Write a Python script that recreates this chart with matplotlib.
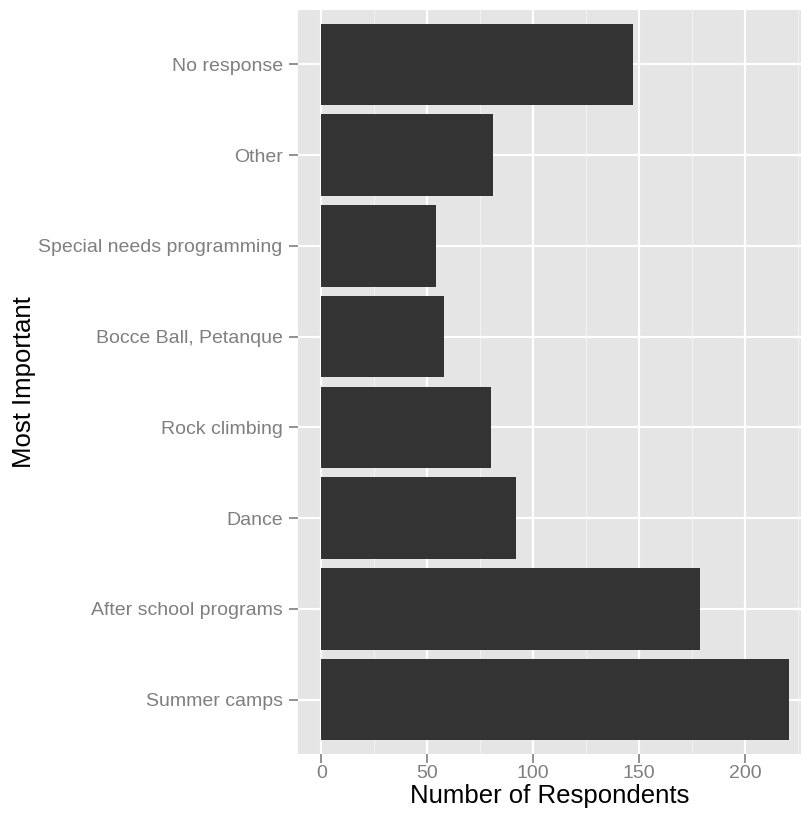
import matplotlib
matplotlib.use("Agg")
from matplotlib import pyplot as plt
from matplotlib.ticker import MultipleLocator

# categories, bottom to top
categories = [
	"Summer camps",
	"After school programs",
	"Dance",
	"Rock climbing",
	"Bocce Ball, Petanque",
	"Special needs programming",
	"Other",
	"No response",
]
respondents = [221, 179, 92, 80, 58, 54, 81, 147]
x_ticks = [0, 50, 100, 150, 200]

plt.rcParams['font.family'] = ['Liberation Sans', 'DejaVu Sans']

fig = plt.figure(figsize=(8.01, 8.16), dpi=100)
ax = fig.add_axes([298 / 801, 1 - 754 / 816, 1 - 298 / 801, (754 - 10) / 816])

ax.set_facecolor('#E5E5E5')
ypos = list(range(len(categories)))
ax.barh(ypos, respondents, height=0.9, color='#333333', zorder=3)

ax.set_xlim(-11, 226.5)
ax.set_ylim(-0.6, len(categories) - 0.4)
ax.set_xticks(x_ticks)
ax.xaxis.set_minor_locator(MultipleLocator(25))
ax.set_yticks(ypos)
ax.set_yticklabels(categories)

ax.grid(which='major', color='white', linewidth=1.6, zorder=1)
ax.grid(which='minor', axis='x', color='#F2F2F2', linewidth=0.8, zorder=1)
ax.tick_params(which='minor', length=0)
ax.tick_params(which='major', length=6.5, width=1.2, color='#7F7F7F',
			   labelcolor='#7F7F7F', labelsize=14)
ax.tick_params(axis='x', pad=1.5)
ax.tick_params(axis='y', pad=4.5)
for s in ax.spines.values():
	s.set_visible(False)

ax.set_xlabel("Number of Respondents", fontsize=18.5, color='black', labelpad=1)
ax.set_ylabel("Most Important", fontsize=18.5, color='black', labelpad=1.5)

fig.savefig("out.png", dpi=100)
